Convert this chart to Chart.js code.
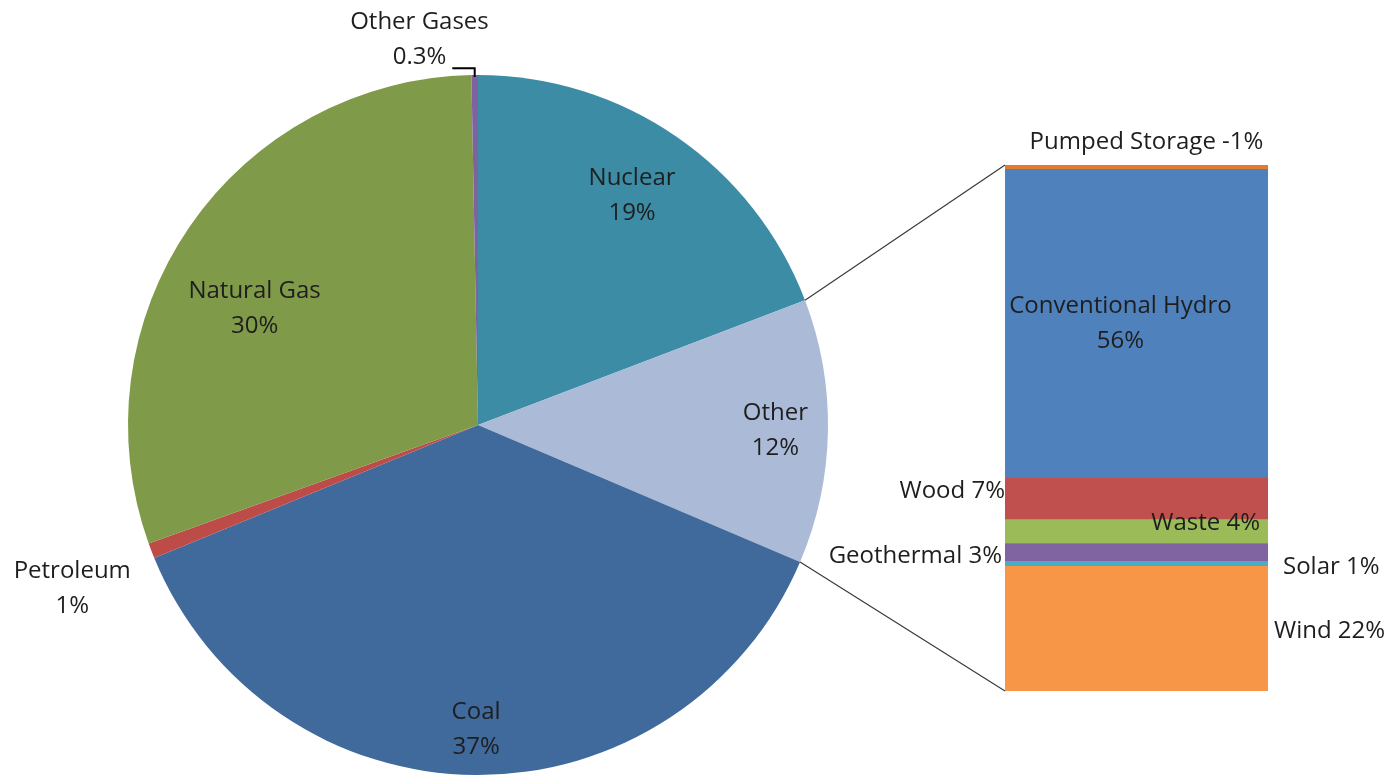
<!DOCTYPE html>
<html>
<head>
<meta charset="utf-8">
<script src="https://cdn.jsdelivr.net/npm/chart.js@4.4.0/dist/chart.umd.min.js"></script>
<style>
  html, body { margin: 0; padding: 0; background: #fff; }
  #wrap { position: relative; width: 1399px; height: 776px; }
  #wrap canvas { position: absolute; left: 0; top: 0; }
</style>
</head>
<body>
<div id="wrap">
  <canvas id="pieChart" width="1399" height="776"></canvas>
  <canvas id="barChart" width="1399" height="776"></canvas>
</div>
<script>
// generation by source, percent of total
const sources = ['Nuclear', 'Other', 'Coal', 'Petroleum', 'Natural Gas', 'Other Gases'];
const sourceShares = [19.2, 12.2, 37.4, 0.7, 30.2, 0.3];
const sourceColors = ['#3c8ca6', '#aabad7', '#40699c', '#bd4b48', '#7f9a48', '#7f63a1'];

// breakdown of "Other", percent of that slice (stacked bottom to top)
const otherSources = ['Wind', 'Solar', 'Geothermal', 'Waste', 'Wood', 'Conventional Hydro', 'Pumped Storage'];
const otherShares = [22.4, 0.9, 3.2, 4.3, 7.4, 55.5, -0.8];
const otherColors = ['#f79646', '#4bacc6', '#8064a2', '#9bbb59', '#c0504d', '#4f81bd', '#e07b2f'];

const FONT = '24px "Open Sans"';
const TEXT = '#1e1e1e';
const LINE_GAP = 35;

function pct(v) {
  const r = Math.round(v);
  return (r === 0 ? v.toFixed(1) : String(r)) + '%';
}

// where each pie label sits: fraction of radius, angle nudge in degrees
const pieLabelPlace = [
  { radius: 0.79, nudge: -0.7 },
  { radius: 0.85, nudge: 0 },
  { radius: 0.87, nudge: 0 },
  { radius: 1.25, nudge: -0.9 },
  { radius: 0.72, nudge: -7 },
  { radius: 1.113, nudge: -8.1, leader: true }
];

const pieLabels = {
  id: 'pieLabels',
  afterDatasetsDraw(chart) {
    const ctx = chart.ctx;
    const arcs = chart.getDatasetMeta(0).data;
    ctx.save();
    ctx.font = FONT;
    ctx.fillStyle = TEXT;
    ctx.textAlign = 'center';
    ctx.textBaseline = 'middle';
    arcs.forEach((arc, i) => {
      const p = pieLabelPlace[i];
      const mid = (arc.startAngle + arc.endAngle) / 2;
      const a = mid + p.nudge * Math.PI / 180;
      const r = arc.outerRadius * p.radius;
      const x = arc.x + Math.cos(a) * r;
      const y = arc.y + Math.sin(a) * r;
      const val = pct(sourceShares[i]);
      ctx.fillText(sources[i], x, y - LINE_GAP / 2);
      ctx.fillText(val, x, y + LINE_GAP / 2);
      if (p.leader) {
        const ex = arc.x + Math.cos(mid) * arc.outerRadius;
        const ey = arc.y + Math.sin(mid) * arc.outerRadius;
        const lx = x + ctx.measureText(val).width / 2 + 6;
        ctx.strokeStyle = '#000';
        ctx.lineWidth = 2;
        ctx.beginPath();
        ctx.moveTo(ex, ey + 2);
        ctx.lineTo(ex, y + LINE_GAP / 2 + 11);
        ctx.lineTo(lx, y + LINE_GAP / 2 + 11);
        ctx.stroke();
      }
    });
    ctx.restore();
  }
};

const pieChart = new Chart(document.getElementById('pieChart'), {
  type: 'pie',
  data: {
    labels: sources,
    datasets: [{
      data: sourceShares,
      backgroundColor: sourceColors,
      borderWidth: 0
    }]
  },
  options: {
    responsive: false,
    animation: false,
    layout: { padding: { left: 128, right: 571, top: 75, bottom: 1 } },
    plugins: { legend: { display: false }, tooltip: { enabled: false } }
  },
  plugins: [pieLabels]
});

// how each bar segment is labelled
const barLabelPlace = [
  { side: 'right', dx: 6, dy: 2 },
  { side: 'right', dx: 15, dy: 3 },
  { side: 'left', dx: -3, dy: 4 },
  { side: 'insideRight', dx: -8, dy: -8 },
  { side: 'left', dx: 0, dy: -8 },
  { side: 'inside', dx: -16, dy: 0 },
  { side: 'above', dx: 10, dy: -23 }
];

const barLabels = {
  id: 'barLabels',
  afterDatasetsDraw(chart) {
    const ctx = chart.ctx;
    ctx.save();
    ctx.font = FONT;
    ctx.fillStyle = TEXT;
    ctx.textBaseline = 'middle';
    otherSources.forEach((name, i) => {
      const bar = chart.getDatasetMeta(i).data[0];
      const left = bar.x - bar.width / 2;
      const right = bar.x + bar.width / 2;
      const top = Math.min(bar.y, bar.base);
      const bottom = Math.max(bar.y, bar.base);
      const cy = (top + bottom) / 2;
      const p = barLabelPlace[i];
      const text = name + ' ' + pct(otherShares[i]);
      if (p.side === 'right') {
        ctx.textAlign = 'left';
        ctx.fillText(text, right + p.dx, cy + p.dy);
      } else if (p.side === 'left') {
        ctx.textAlign = 'right';
        ctx.fillText(text, left + p.dx, cy + p.dy);
      } else if (p.side === 'insideRight') {
        ctx.textAlign = 'right';
        ctx.fillText(text, right + p.dx, cy + p.dy);
      } else if (p.side === 'inside') {
        ctx.textAlign = 'center';
        ctx.fillText(name, bar.x + p.dx, cy - LINE_GAP / 2);
        ctx.fillText(pct(otherShares[i]), bar.x + p.dx, cy + LINE_GAP / 2);
      } else {
        ctx.textAlign = 'center';
        ctx.fillText(text, bar.x + p.dx, top + p.dy);
      }
    });

    // connectors from the "Other" slice to the bar
    const otherArc = pieChart.getDatasetMeta(0).data[sources.indexOf('Other')];
    const firstBar = chart.getDatasetMeta(0).data[0];
    const lastBar = chart.getDatasetMeta(otherSources.length - 1).data[0];
    const barLeft = firstBar.x - firstBar.width / 2;
    const barTop = Math.min(lastBar.y, lastBar.base);
    const barBottom = Math.max(firstBar.y, firstBar.base);
    const r = otherArc.outerRadius;
    ctx.strokeStyle = '#3a3a3a';
    ctx.lineWidth = 1.2;
    ctx.beginPath();
    ctx.moveTo(otherArc.x + Math.cos(otherArc.startAngle) * r, otherArc.y + Math.sin(otherArc.startAngle) * r);
    ctx.lineTo(barLeft, barTop);
    ctx.moveTo(otherArc.x + Math.cos(otherArc.endAngle) * r, otherArc.y + Math.sin(otherArc.endAngle) * r);
    ctx.lineTo(barLeft, barBottom);
    ctx.stroke();
    ctx.restore();
  }
};

const barTotal = otherShares.reduce((s, v) => s + Math.abs(v), 0);

new Chart(document.getElementById('barChart'), {
  type: 'bar',
  data: {
    labels: ['Other'],
    datasets: otherSources.map((name, i) => ({
      label: name,
      data: [Math.abs(otherShares[i])],
      backgroundColor: otherColors[i],
      borderWidth: 0,
      barPercentage: 1,
      categoryPercentage: 1
    }))
  },
  options: {
    responsive: false,
    animation: false,
    layout: { padding: { left: 1005, right: 131, top: 165, bottom: 85 } },
    scales: {
      x: { display: false, stacked: true },
      y: { display: false, stacked: true, min: 0, max: barTotal }
    },
    plugins: { legend: { display: false }, tooltip: { enabled: false } }
  },
  plugins: [barLabels]
});
</script>
</body>
</html>
